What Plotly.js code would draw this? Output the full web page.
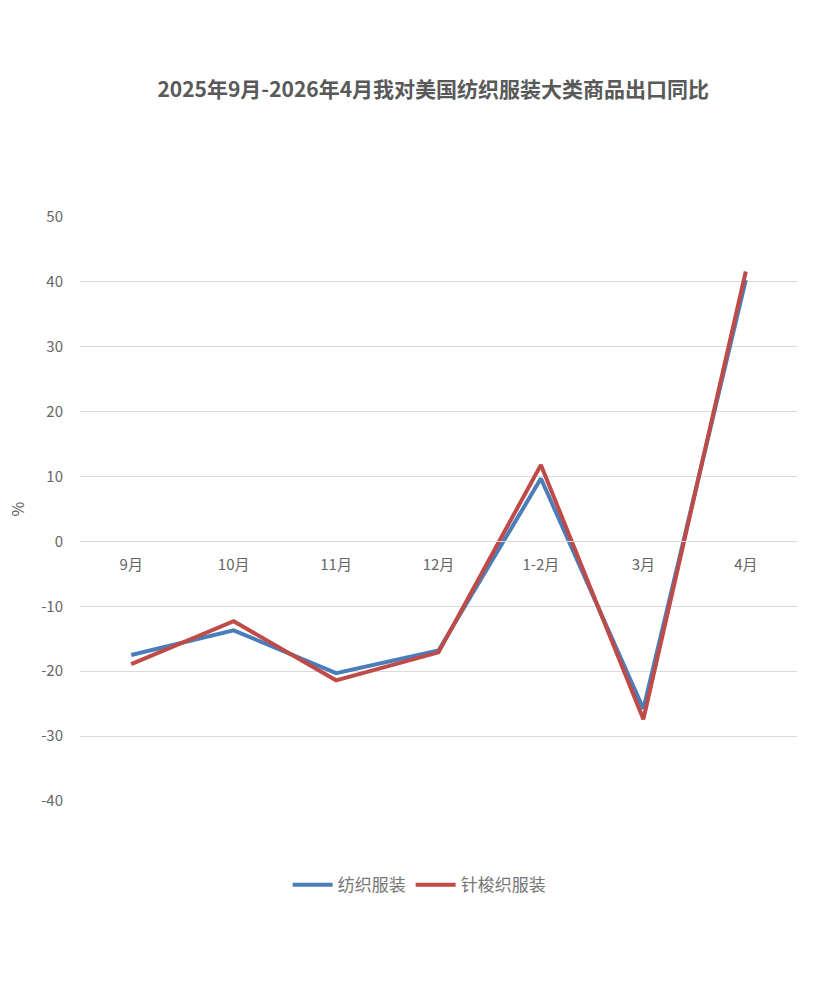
<!DOCTYPE html>
<html>
<head>
<meta charset="utf-8">
<script src="https://cdn.plot.ly/plotly-3.0.1.min.js"></script>
<style>html,body{margin:0;padding:0;background:#fff;}#chart{width:830px;height:983px;}</style>
</head>
<body>
<div id="chart"></div>
<script>
const categories = ["9月", "10月", "11月", "12月", "1-2月", "3月", "4月"];
const textileApparel = [-17.5, -13.7, -20.3, -16.8, 9.7, -25.8, 40.3];
const knitWovenApparel = [-18.9, -12.3, -21.4, -17.1, 11.8, -27.4, 41.6];
const seriesNames = ["纺织服装", "针梭织服装"];
const yTicks = [-40, -30, -20, -10, 0, 10, 20, 30, 40, 50];
const yTickLabels = ["-40", "-30", "-20", "-10", "0", "10", "20", "30", "40", "50"];

const font = '"Noto Sans CJK SC", "Microsoft YaHei", sans-serif';
const traces = [
  {x: categories, y: textileApparel, name: seriesNames[0], type: 'scatter', mode: 'lines',
   line: {color: '#4a7ebb', width: 4}},
  {x: categories, y: knitWovenApparel, name: seriesNames[1], type: 'scatter', mode: 'lines',
   line: {color: '#be4b48', width: 4}}
];
const layout = {
  width: 830, height: 983,
  margin: {l: 80, r: 33, t: 217, b: 182},
  paper_bgcolor: '#fff', plot_bgcolor: '#fff',
  font: {family: font, color: '#595959', size: 15},
  title: {text: '<b>2025年9月-2026年4月我对美国纺织服装大类商品出口同比</b>',
          font: {family: font, size: 21, color: '#595959'},
          x: 0.522, xanchor: 'center', y: 0.909, yanchor: 'middle'},
  xaxis: {type: 'category', range: [-0.5, 6.5], anchor: 'free', position: 40/90,
          showgrid: false, showline: true, linecolor: '#d9d9d9', linewidth: 1,
          ticks: '', ticklabelstandoff: 10, tickfont: {size: 15, color: '#666666'}, fixedrange: true},
  yaxis: {range: [-40, 50], tickmode: 'array', tickvals: yTicks, ticktext: yTickLabels,
          showgrid: true, gridcolor: '#d9d9d9', gridwidth: 1,
          zeroline: false, showline: false, ticks: '', ticklabelstandoff: 16,
          tickfont: {size: 15, color: '#666666'},
          title: {text: '%', font: {size: 16, color: '#595959'}, standoff: 12}},
  showlegend: true,
  legend: {orientation: 'h', x: 0.473, xanchor: 'center', y: -0.144, yanchor: 'middle',
           font: {size: 17, color: '#767676'}, itemwidth: 40, traceorder: 'normal'}
};
Plotly.newPlot('chart', traces, layout, {displayModeBar: false, staticPlot: true});
</script>
</body>
</html>
